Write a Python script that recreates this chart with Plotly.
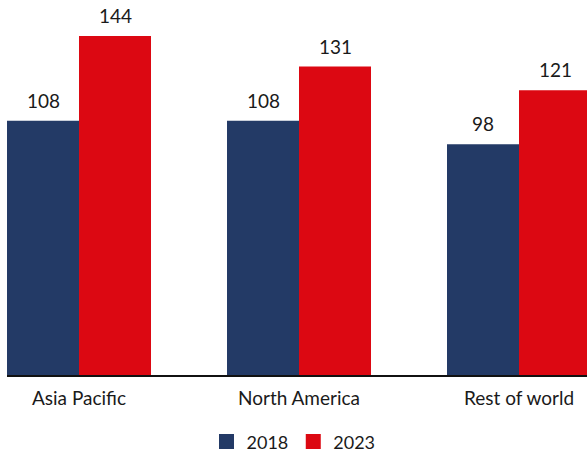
import plotly.graph_objects as go

regions = ["Asia Pacific", "North America", "Rest of world"]
years = ["2018", "2023"]
values_2018 = [108, 108, 98]
values_2023 = [144, 131, 121]

navy = "#233a66"
red = "#dc0812"
font_family = "Lato, 'Open Sans', sans-serif"
text_color = "#1a1a1a"

fig = go.Figure()
series = [(years[0], values_2018, navy, -36), (years[1], values_2023, red, 36)]
for name, vals, col, shift in series:
    fig.add_trace(go.Bar(
        x=regions, y=vals, name=name, marker=dict(color=col, line=dict(width=0)),
        showlegend=False,
    ))
    # square legend swatch
    fig.add_trace(go.Scatter(
        x=[None], y=[None], mode="markers", name=name,
        marker=dict(symbol="square", size=15, color=col),
    ))
    # value labels above each bar
    for r, v in zip(regions, vals):
        fig.add_annotation(
            x=r, y=v, text=str(v), showarrow=False,
            xshift=shift, yanchor="bottom", yshift=7,
            font=dict(size=19, family=font_family, color=text_color),
        )

fig.update_layout(
    width=587, height=456,
    margin=dict(l=7, r=0, t=0, b=80.5),
    paper_bgcolor="white", plot_bgcolor="white",
    barmode="group", bargap=0.3455, bargroupgap=0,
    font=dict(family=font_family, color=text_color, size=19),
    xaxis=dict(
        range=[-0.3273, 2.3091], showgrid=False, zeroline=False,
        showline=True, linecolor="#111111", linewidth=1.5,
        ticks="", ticklabelstandoff=5,
        tickfont=dict(size=19, family=font_family, color=text_color),
    ),
    yaxis=dict(range=[0, 159.3], visible=False, showgrid=False, zeroline=False),
    legend=dict(
        orientation="h", xref="container", yref="container",
        x=0.5, xanchor="center", y=0.031, yanchor="middle",
        font=dict(size=18, family=font_family, color=text_color),
        itemwidth=30, traceorder="normal",
    ),
)

fig.write_html("out.html")
